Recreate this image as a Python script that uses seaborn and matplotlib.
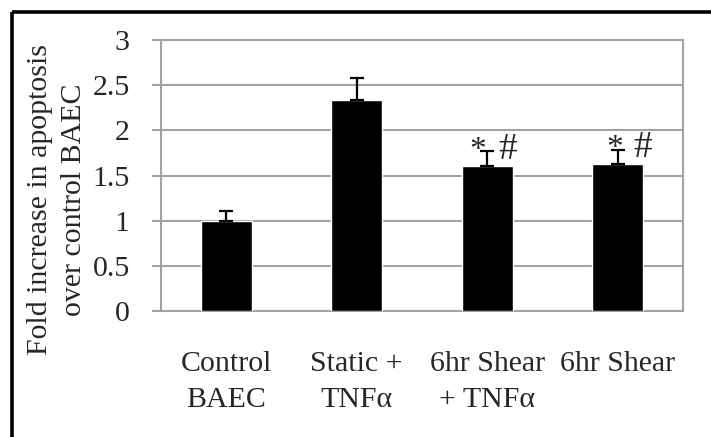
import numpy as np
import pandas as pd
import matplotlib
matplotlib.use('Agg')
import matplotlib.pyplot as plt
from matplotlib.lines import Line2D
import seaborn as sns

# data
groups = ['Control\nBAEC', 'Static +\nTNFα', '6hr Shear\n+ TNFα', '6hr Shear']
fold_change = [1.00, 2.34, 1.61, 1.63]
sem = [0.11, 0.24, 0.16, 0.15]
y_ticks = [0, 0.5, 1, 1.5, 2, 2.5, 3]
y_tick_labels = ['0', '0.5', '1', '1.5', '2', '2.5', '3']
# significance marks: (bar index, symbol, x offset in bar units)
marks = [(2, '*', -0.075), (2, '#', 0.16), (3, '*', -0.02), (3, '#', 0.195)]

df = pd.DataFrame({'group': groups, 'fold': fold_change, 'sem': sem})

sns.set_style('white')
plt.rcParams['font.family'] = ['Liberation Serif', 'DejaVu Serif']

GRID = '#a3a3a3'
FS = 21.5

fig = plt.figure(figsize=(7.11, 4.37), dpi=100)
ax = fig.add_axes([0.2264, 0.2883, 0.7342, 0.6201])

sns.barplot(data=df, x='group', y='fold', color='black', saturation=1,
            width=0.39, errorbar=None, ax=ax, zorder=3)

# upward-only error bars
x_pos = np.arange(len(groups))
ax.errorbar(x_pos, df['fold'], yerr=[np.zeros(len(groups)), df['sem']],
            fmt='none', ecolor='black', elinewidth=1.6, capsize=5.2,
            capthick=1.6, zorder=4)

mark_size = {'*': 24, '#': 27}
for idx, sym, dx in marks:
    ax.text(idx + dx, fold_change[idx] + 0.07, sym, fontsize=mark_size[sym],
            ha='center', va='baseline', zorder=5)

ax.set_ylim(0, 3)
ax.set_xlim(-0.5, len(groups) - 0.5)
ax.set_yticks(y_ticks)
ax.set_yticklabels(y_tick_labels, fontsize=FS)
ax.tick_params(axis='y', direction='out', length=6.5, width=1.5,
               color=GRID, pad=16, left=True)
ax.tick_params(axis='x', length=0, pad=29, labelsize=FS)
for lab in ax.get_xticklabels():
    lab.set_linespacing(1.5)
ax.set_xlabel('')
ax.set_ylabel('')

ax.yaxis.grid(True, color=GRID, linewidth=1.5, zorder=0)
ax.set_axisbelow(True)
for sp in ax.spines.values():
    sp.set_color(GRID)
    sp.set_linewidth(1.5)

fig.text(0.080, 0.543, 'Fold increase in apoptosis\nover control BAEC',
         rotation=90, ha='center', va='center', fontsize=FS,
         multialignment='center', linespacing=1.4)

# heavy frame on top and left (cut off at right/bottom)
x0 = 11.5 / 711
y0 = 1 - 11.5 / 437
fig.add_artist(Line2D([x0, 1], [y0, y0], transform=fig.transFigure,
                      color='black', linewidth=2.6, solid_capstyle='butt'))
fig.add_artist(Line2D([x0, x0], [0, y0], transform=fig.transFigure,
                      color='black', linewidth=2.6, solid_capstyle='butt'))

fig.savefig('out.png', dpi=100)
